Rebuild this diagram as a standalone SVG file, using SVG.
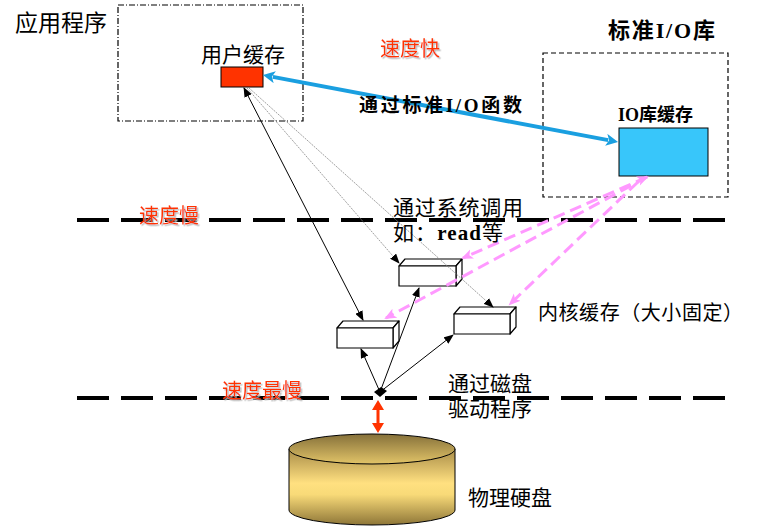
<svg xmlns="http://www.w3.org/2000/svg" width="783" height="527" viewBox="0 0 783 527">
<style>
text{font-family:"Liberation Serif","Noto Sans CJK SC",serif;fill:#000}
.red{fill:#FF3300;filter:url(#sh)}
.b{font-weight:bold}
.kbox{fill:#fff;stroke:#000;stroke-width:1.2;stroke-linejoin:round}
.sep{stroke:#000;stroke-width:4;stroke-dasharray:32 12;fill:none}
.thin{stroke:#000;stroke-width:1;fill:none}
.gray{stroke:#888;stroke-width:0.8;stroke-dasharray:2 1;fill:none}
.pink{stroke:#FF99FF;stroke-width:3;stroke-dasharray:12 6;fill:none}
</style>
<defs>
<filter id="sh" x="-10%" y="-10%" width="130%" height="140%">
<feDropShadow dx="1.5" dy="1.5" stdDeviation="0.6" flood-color="#bbbbbb" flood-opacity="1"/>
</filter>
<marker id="ab" markerUnits="userSpaceOnUse" markerWidth="10" markerHeight="8" refX="9" refY="4" orient="auto-start-reverse" viewBox="0 0 10 8">
<path d="M0,0 L10,4 L0,8 z" fill="#000"/>
</marker>
<marker id="abl" markerUnits="userSpaceOnUse" markerWidth="13" markerHeight="12" refX="2" refY="6" orient="auto-start-reverse" viewBox="0 0 13 12">
<path d="M0,0 L12,6 L0,12 L3,6 z" fill="#1A9FE0"/>
</marker>
<marker id="ap" markerUnits="userSpaceOnUse" markerWidth="13" markerHeight="11" refX="10" refY="5" orient="auto-start-reverse" viewBox="0 0 13 11">
<path d="M0,0 L12,5 L0,10 L3,5 z" fill="#FF99FF"/>
</marker>
<linearGradient id="side" x1="0" y1="0" x2="0" y2="1">
<stop offset="0" stop-color="#A88C48"/>
<stop offset="0.45" stop-color="#FFE080"/>
<stop offset="0.6" stop-color="#F8DA78"/>
<stop offset="1" stop-color="#8E7638"/>
</linearGradient>
<linearGradient id="top" x1="0" y1="0" x2="0" y2="1">
<stop offset="0" stop-color="#85703A"/>
<stop offset="1" stop-color="#E2C468"/>
</linearGradient>
</defs>

<g id="separators">
<line class="sep" x1="77" y1="220" x2="725" y2="220"/>
<line class="sep" x1="77" y1="398" x2="725" y2="398"/>
</g>

<g id="app">
<rect x="118" y="5" width="185" height="116" fill="none" stroke="#000" stroke-width="1.2" stroke-dasharray="6 2 1 2"/>
<text x="15" y="31" font-size="23">应用程序</text>
</g>

<g id="user-buffer">
<text x="201" y="62" font-size="21">用户缓存</text>
<rect x="221" y="67" width="42" height="20" fill="#FF3300" stroke="#000" stroke-width="1"/>
</g>

<g id="stdio">
<rect x="543" y="53" width="185" height="144" fill="none" stroke="#000" stroke-width="1.2" stroke-dasharray="5 3"/>
<text x="608" y="38" font-size="22" class="b" textLength="107">标准I/O库</text>
</g>

<g id="io-buffer">
<text x="618" y="121" font-size="18" class="b">IO库缓存</text>
<rect x="619" y="128" width="89" height="48" fill="#38C6FA" stroke="#000" stroke-width="1"/>
</g>

<g id="kernel-a">
<path class="kbox" d="M399,266 L405,259 L462,259 L456,266 Z"/>
<path class="kbox" d="M456,266 L462,259 L462,279 L456,286 Z"/>
<rect class="kbox" x="399" y="266" width="57" height="20"/>
</g>
<g id="kernel-b">
<path class="kbox" d="M337,328 L343,321 L399,321 L393,328 Z"/>
<path class="kbox" d="M393,328 L399,321 L399,341 L393,348 Z"/>
<rect class="kbox" x="337" y="328" width="56" height="20"/>
</g>
<g id="kernel-c">
<path class="kbox" d="M454,314 L460,307 L516,307 L510,314 Z"/>
<path class="kbox" d="M510,314 L516,307 L516,327 L510,334 Z"/>
<rect class="kbox" x="454" y="314" width="56" height="20"/>
</g>

<g id="disk">
<path d="M289,449 V510 A83,15 0 0 0 455,510 V449 Z" fill="url(#side)" stroke="#000" stroke-width="1"/>
<ellipse cx="372" cy="449" rx="83" ry="15" fill="url(#top)" stroke="#000" stroke-width="1"/>
</g>

<g id="connectors">
<line x1="272.8" y1="76.9" x2="608.2" y2="140.1" stroke="#1A9FE0" stroke-width="4" marker-start="url(#abl)" marker-end="url(#abl)"/>
<line class="thin" x1="244" y1="88" x2="363" y2="320" marker-start="url(#ab)" marker-end="url(#ab)"/>
<line class="gray" x1="247" y1="88" x2="399" y2="263" marker-end="url(#ab)"/>
<line class="gray" x1="249" y1="88" x2="493" y2="307" marker-end="url(#ab)"/>
<line class="thin" x1="380" y1="392" x2="361" y2="349" marker-end="url(#ab)"/>
<line class="thin" x1="380" y1="392" x2="419" y2="288" marker-end="url(#ab)"/>
<line class="thin" x1="380" y1="392" x2="453" y2="335" marker-end="url(#ab)"/>
<line class="pink" x1="647" y1="177" x2="463" y2="258" marker-start="url(#ap)" marker-end="url(#ap)"/>
<line class="pink" x1="647" y1="177" x2="386" y2="318" marker-end="url(#ap)"/>
<line class="pink" x1="638" y1="182" x2="510" y2="304" marker-end="url(#ap)"/>
<polygon points="378,400 384,410 379.5,410 379.5,423 384,423 378,433 372,423 376.5,423 376.5,410 372,410" fill="#FF3300"/>
</g>

<g id="driver">
<polygon points="374,392 381,387 387,391 380,397" fill="#000"/>
</g>

<g id="labels">
<text x="380" y="56" font-size="20" class="red">速度快</text>
<text x="359" y="112" font-size="19" class="b" textLength="163">通过标准I/O函数</text>
<text x="139" y="223" font-size="20" class="red">速度慢</text>
<text x="393" y="215" font-size="21" textLength="130">通过系统调用</text>
<text x="393" y="240" font-size="21" textLength="110">如：<tspan class="b">read</tspan>等</text>
<text x="538" y="320" font-size="20" textLength="205">内核缓存（大小固定）</text>
<text x="222" y="398" font-size="20" class="red">速度最慢</text>
<text x="448" y="391" font-size="21">通过磁盘</text>
<text x="448" y="416" font-size="21">驱动程序</text>
<text x="468" y="505" font-size="21">物理硬盘</text>
</g>
</svg>
